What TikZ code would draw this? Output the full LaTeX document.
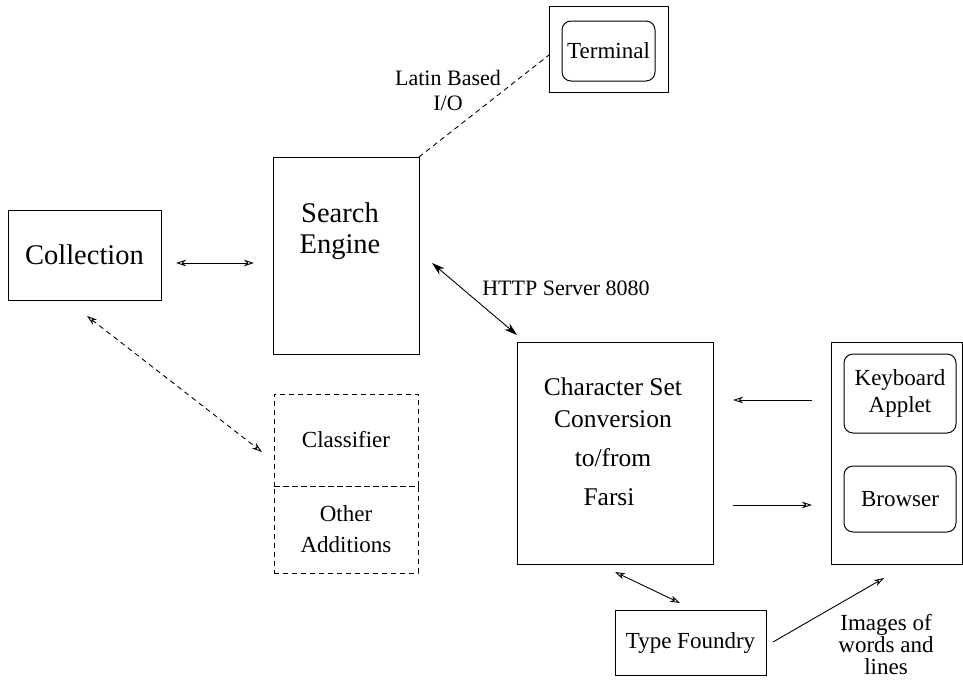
\documentclass[tikz,border=0pt]{standalone}
\usepackage{fontspec}
\setmainfont{Liberation Serif}
\usetikzlibrary{arrows.meta,calc}
\begin{document}
\begin{tikzpicture}[x=1pt,y=-1pt,
  box/.style={draw, line width=1pt, inner sep=0pt, outer sep=0pt},
  rbox/.style={box, rounded corners=9pt},
  dbox/.style={box, dash pattern=on 5pt off 4pt},
  bigf/.style={font=\fontsize{28.5}{31}\selectfont},
  midf/.style={font=\fontsize{25.5}{32}\selectfont},
  smallf/.style={font=\fontsize{23}{27}\selectfont},
  labf/.style={font=\fontsize{22}{25}\selectfont},
  con/.style={line width=0.9pt},
  otip/.tip={Stealth[open,length=10pt,width=6.5pt,inset=3pt]},
  ftip/.tip={Stealth[length=13pt,width=8pt,inset=4pt]},
]
\useasboundingbox (0,0) rectangle (963,683);

% boxes
\node[box, minimum width=153pt, minimum height=90pt, bigf] (coll) at (84.5,255) {Collection};
\node[box, minimum width=146pt, minimum height=197pt] (se) at (346,255.5) {};
\node[bigf, align=center] (setext) at (340,231) {Search\\Engine};

\node[box, minimum width=119pt, minimum height=86pt] (term) at (608.5,49) {};
\node[rbox, minimum width=93pt, minimum height=60pt, smallf] (termin) at (608.5,51) {Terminal};

\node[dbox, minimum width=144pt, minimum height=92pt, smallf] (cls) at (346,440) {Classifier};
\node[dbox, minimum width=144pt, minimum height=87pt, smallf, align=center, font=\fontsize{23}{31}\selectfont] (oth) at (346,529.5) {Other\\Additions};

\node[box, minimum width=196pt, minimum height=222pt] (cs) at (615,453) {};
\node[midf, align=center] (cstext) at (613,442) {Character Set\\Conversion\\[7pt]to/from\\[7pt]\hspace*{-8pt}Farsi};

\node[box, minimum width=131pt, minimum height=222pt] (br) at (896.5,453) {};
\node[rbox, minimum width=112pt, minimum height=79pt, smallf, align=center] (kb) at (900,393.5) {Keyboard\\Applet};
\node[rbox, minimum width=112pt, minimum height=66pt, smallf] (brin) at (900,499) {Browser};

\node[box, minimum width=151pt, minimum height=65pt, smallf] (tf) at (690.5,642.5) {Type Foundry};

% labels
\node[labf, align=center] (latin) at (448,90) {Latin Based\\I/O};
\node[labf] (http) at (566,288) {HTTP Server 8080};
\node[smallf, align=center, font=\fontsize{23}{22}\selectfont] (img) at (886,645) {Images of\\words and\\lines};

% connector ends
\coordinate (c1a) at (176,263); \coordinate (c1b) at (254,263);
\coordinate (c2a) at (87,316);  \coordinate (c2b) at (262,452);
\coordinate (c3b) at (549,55);
\coordinate (c4a) at (432,263); \coordinate (c4b) at (517,335);
\coordinate (c5a) at (812,400); \coordinate (c5b) at (733,400);
\coordinate (c6a) at (733,505); \coordinate (c6b) at (812,505);
\coordinate (c7a) at (615,572); \coordinate (c7b) at (680,603);
\coordinate (c8a) at (773,642); \coordinate (c8b) at (884,578);

% connectors
\draw[con, otip-otip] (c1a) -- (c1b);
\draw[con, otip-otip, dash pattern=on 5pt off 4pt] (c2a) -- (c2b);
\draw[con, dash pattern=on 5pt off 4pt] (se.north east) -- (c3b);
\draw[con, ftip-ftip] (c4a) -- (c4b);
\draw[con, -otip] (c5a) -- (c5b);
\draw[con, -otip] (c6a) -- (c6b);
\draw[con, otip-otip] (c7a) -- (c7b);
\draw[con, -otip] (c8a) -- (c8b);
\end{tikzpicture}
\end{document}
